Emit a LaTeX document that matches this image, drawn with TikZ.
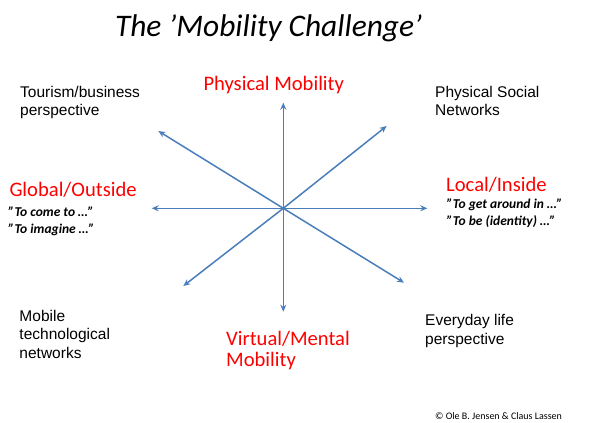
\documentclass[tikz,border=0pt]{standalone}
\usepackage{fontspec}
\setmainfont{Carlito}
\newfontfamily\arialfont{Liberation Sans}
\usetikzlibrary{arrows.meta}
\definecolor{arrowblue}{RGB}{74,126,187}
\definecolor{labelred}{RGB}{255,0,0}

\begin{document}
\begin{tikzpicture}[x=1pt,y=-1pt,
  spoke/.style={arrowblue, line width=1.5pt, -{Stealth[length=7pt,width=6pt]}},
  redlabel/.style={text=labelred, anchor=base west, inner sep=0pt, align=left, font=\fontsize{20.6}{21.7}\selectfont},
  blacklabel/.style={anchor=base west, inner sep=0pt, align=left, font=\arialfont\fontsize{15.5}{18.5}\selectfont},
  quotes/.style={anchor=base west, inner sep=0pt, align=left, font=\bfseries\itshape\fontsize{13.5}{17}\selectfont}]
\useasboundingbox (0,0) rectangle (590,423);
\node[anchor=base, inner sep=0pt, font=\itshape\fontsize{31.4}{36}\selectfont] (title) at (268.5,37) {The 'Mobility Challenge'};
% the eight spokes
\coordinate (hub) at (283.3,208.3);
\coordinate (up) at (283.3,102.7);
\coordinate (down) at (283.3,311.7);
\coordinate (left) at (151.7,208.3);
\coordinate (right) at (427.3,208.3);
\coordinate (upleft) at (158.3,131);
\coordinate (upright) at (386.7,126);
\coordinate (downleft) at (183.3,286);
\coordinate (downright) at (404,282.7);
\foreach \e in {up,down,left,right,upleft,upright,downleft,downright}
  \draw[spoke] (hub) -- (\e);
% red axis labels (base = last line)
\node[redlabel] (physmob) at (203.3,90.7) {Physical Mobility};
\node[redlabel] (virtmob) at (226,366.7) {Virtual/Mental\\Mobility};
\node[redlabel] (global) at (9.3,196) {Global/Outside};
\node[redlabel] (local) at (446,191.7) {Local/Inside};
\node[quotes] (globalq) at (8.3,233.3) {”To come to …”\\”To imagine …”};
\node[quotes] (localq) at (446.7,225) {”To get around in …”\\”To be (identity) …”};
% corner labels
\node[blacklabel] (tourism) at (20,115.7) {Tourism/business\\perspective};
\node[blacklabel] (social) at (435,115.7) {Physical Social\\Networks};
\node[blacklabel] (mobnet) at (19.3,358.3) {Mobile\\technological\\networks};
\node[blacklabel] (everyday) at (425,344.3) {Everyday life\\perspective};
\node[anchor=base west, inner sep=0pt, font=\fontsize{10}{12}\selectfont] (credit) at (435,419.3) {© Ole B. Jensen \& Claus Lassen};
\end{tikzpicture}
\end{document}
